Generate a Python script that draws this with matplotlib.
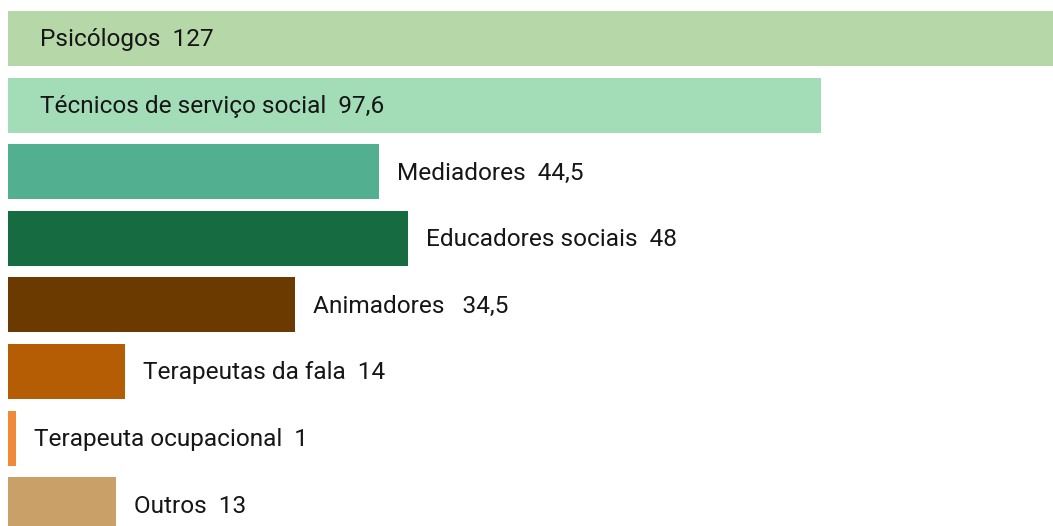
import matplotlib
matplotlib.use("Agg")
import matplotlib.pyplot as plt

categories = ["Psicólogos", "Técnicos de serviço social", "Mediadores",
              "Educadores sociais", "Animadores", "Terapeutas da fala",
              "Terapeuta ocupacional", "Outros"]
values = [127, 97.6, 44.5, 48, 34.5, 14, 1, 13]
value_labels = ["127", "97,6", "44,5", "48", " 34,5", "14", "1", "13"]
colors = ["#b6d7a8", "#a3ddb8", "#52af8f", "#176b41",
          "#6b3a00", "#b45d05", "#ef8a38", "#c9a068"]
inside = [True, True, False, False, False, False, False, False]

plt.rcParams['font.family'] = ['Roboto', 'DejaVu Sans']

fig = plt.figure(figsize=(10.53, 5.26), dpi=100)
ax = fig.add_axes([8 / 1053, 0, 1 - 8 / 1053, 1])

y = list(range(len(categories)))
ax.barh(y, values, height=0.826, color=colors)

px = 125.45 / 1045  # data units per pixel in x
for yi, cat, v, lab, ins in zip(y, categories, values, value_labels, inside):
    text = f"{cat}  {lab}"
    x0 = 32 * px if ins else v + 18 * px
    ax.text(x0, yi + 0.02, text, va='center', ha='left', fontsize=17.6, color='#161616')

ax.set_xlim(0, 125.45)
ax.set_ylim(7.32, -0.578)
ax.axis('off')

fig.savefig("out.png", dpi=100)
